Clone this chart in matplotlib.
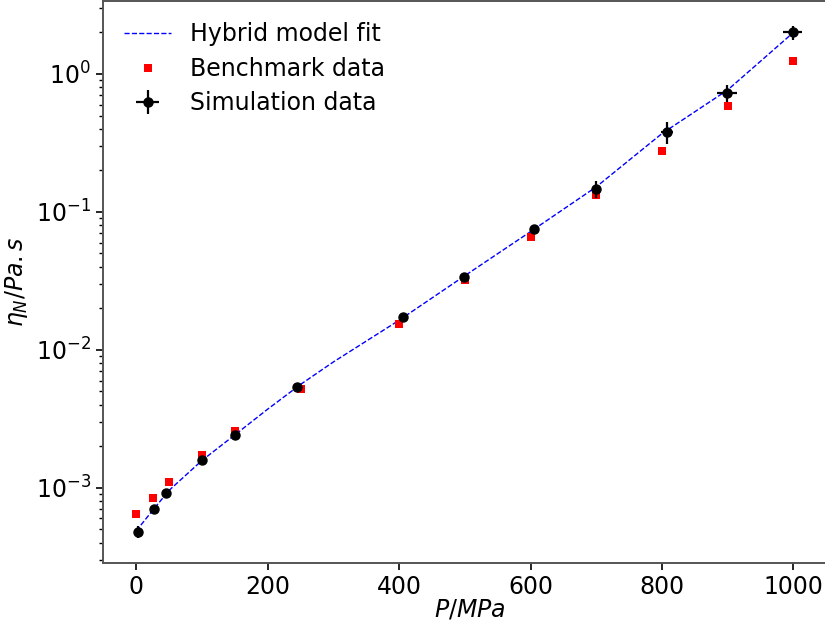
import numpy as np
import matplotlib
matplotlib.use("Agg")
import matplotlib.pyplot as plt

# ── Data ──────────────────────────────────────────────────────────────────────
fit_p   = [0, 25, 50, 100, 150, 200, 250, 300, 400, 500, 600, 700, 800, 900, 1000]
fit_eta = [4.88e-4, 6.87e-4, 9.6e-4, 1.58e-3, 2.42e-3, 3.72e-3, 5.62e-3, 8.18e-3,
           1.64e-2, 3.45e-2, 7.2e-2, 0.152, 0.370, 0.766, 2.00]

bench_p   = [0, 25, 50, 100, 150, 250, 400, 500, 600, 700, 800, 900, 1000]
bench_eta = [6.44e-4, 8.51e-4, 1.11e-3, 1.73e-3, 2.58e-3, 5.21e-3, 1.53e-2,
             3.21e-2, 6.59e-2, 0.133, 0.275, 0.586, 1.25]

sim_p    = [2, 27, 46, 100, 150, 244, 406, 498, 606, 700, 808, 899, 999]
sim_eta  = [4.82e-4, 7.08e-4, 9.25e-4, 1.58e-3, 2.42e-3, 5.42e-3, 1.74e-2,
            3.38e-2, 7.53e-2, 0.147, 0.378, 0.726, 2.00]
sim_perr = [1, 1, 1, 2, 2, 3, 3, 4, 4, 5, 9.5, 15, 14.5]
sim_eerr = [4.6e-5, 3e-5, 3e-5, 5e-5, 8e-5, 1.5e-4, 5e-4, 1.2e-3, 3e-3,
            0.02, 0.069, 0.10, 0.24]

FS = 17

fig = plt.figure(figsize=(8.25, 6.25), dpi=100)
ax = fig.add_axes([0.1245, 0.0987, 0.889, 0.8997])

ax.plot(fit_p, fit_eta, color="blue", ls="--", lw=1.0, label="Hybrid model fit")
ax.plot(bench_p, bench_eta, "s", color="red", ms=5.5, mew=0, label="Benchmark data")
ax.errorbar(sim_p, sim_eta, xerr=sim_perr, yerr=sim_eerr, fmt="o", color="black",
            ms=6.5, elinewidth=1.6, capsize=0, label="Simulation data")

ax.set_yscale("log")
ax.set_xlim(-51, 1065)
ax.set_ylim(2.84e-4, 3.38)
ax.set_xticks([0, 200, 400, 600, 800, 1000])

ax.set_xlabel(r"$P/MPa$", fontsize=FS, labelpad=-1)
ax.set_ylabel(r"$\eta_N/Pa.s$", fontsize=FS, labelpad=4)
ax.tick_params(labelsize=FS, which="major", length=5, width=1.2)
ax.tick_params(which="minor", length=3, width=1.0)
for sp in ax.spines.values():
    sp.set_linewidth(1.4)
    sp.set_color("#555555")

ax.legend(loc="upper left", fontsize=FS, frameon=False,
          handlelength=2.0, labelspacing=0.45)

fig.savefig("out.png", dpi=100)
